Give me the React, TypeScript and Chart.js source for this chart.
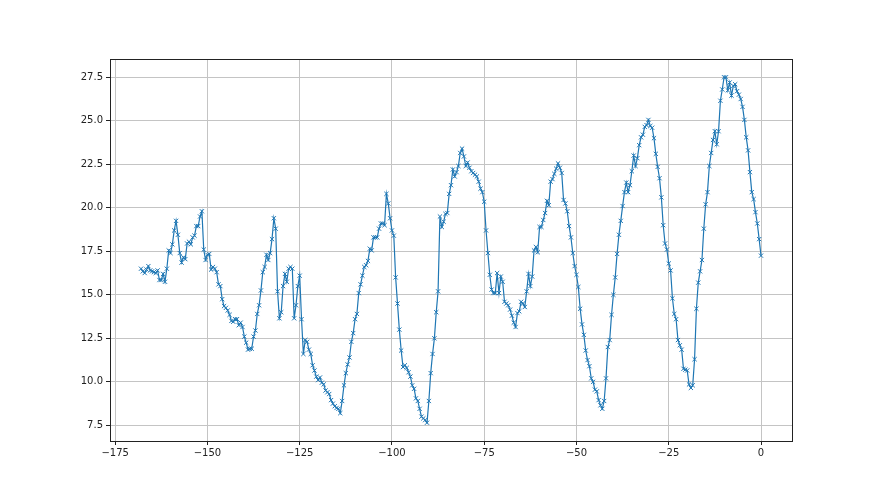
import { useEffect, useRef } from 'react';
import { Chart, registerables } from 'chart.js';

Chart.register(...registerables);

// Half-hourly readings, from 168 h ago (start) up to now (0 h)
const START_HOUR = -168;
const STEP_HOURS = 0.5;

const values: number[] = [
  16.5, 16.35, 16.25, 16.45, 16.65, 16.4, 16.35, 16.3, 16.25, 16.4,
  15.85, 15.85, 16.2, 15.75, 16.5, 17.55, 17.4, 17.9, 18.7, 19.25,
  18.45, 17.4, 16.85, 17.15, 17.05, 17.95, 18.05, 17.9, 18.3, 18.4,
  18.95, 18.95, 19.5, 19.8, 17.6, 17.0, 17.3, 17.35, 16.45, 16.6,
  16.5, 16.3, 15.6, 15.5, 14.75, 14.35, 14.25, 14.1, 13.85, 13.5,
  13.45, 13.6, 13.6, 13.25, 13.4, 13.15, 12.6, 12.25, 11.85, 11.9,
  11.9, 12.6, 12.95, 13.9, 14.4, 15.25, 16.3, 16.6, 17.3, 17.0,
  17.4, 18.2, 19.4, 18.8, 15.2, 13.65, 14.0, 15.5, 16.2, 15.75,
  16.5, 16.6, 16.5, 13.65, 14.4, 15.5, 16.1, 13.6, 11.6, 12.4,
  12.3, 11.85, 11.6, 10.95, 10.65, 10.3, 10.1, 10.25, 9.95, 9.85,
  9.5, 9.4, 9.3, 8.95, 8.75, 8.6, 8.5, 8.45, 8.2, 8.9,
  9.8, 10.5, 11.0, 11.4, 12.3, 12.8, 13.6, 13.9, 15.1, 15.6,
  16.1, 16.6, 16.7, 16.95, 17.65, 17.55, 18.3, 18.3, 18.3, 18.8,
  19.1, 19.1, 19.0, 20.8, 20.25, 19.4, 18.7, 18.4, 16.0, 14.5,
  13.0, 11.8, 10.85, 10.95, 10.8, 10.55, 10.3, 9.8, 9.6, 9.05,
  8.9, 8.45, 8.0, 7.9, 7.8, 7.65, 8.9, 10.5, 11.6, 12.5,
  14.0, 15.2, 19.5, 18.9, 19.2, 19.65, 19.7, 20.8, 21.3, 22.2,
  21.8, 22.05, 22.4, 23.15, 23.4, 22.95, 22.4, 22.6, 22.3, 22.1,
  22.0, 21.9, 21.8, 21.5, 21.1, 20.9, 20.35, 18.7, 17.4, 16.15,
  15.3, 15.1, 15.1, 16.25, 15.1, 16.05, 15.75, 14.6, 14.5, 14.4,
  14.15, 13.8, 13.4, 13.15, 13.95, 14.05, 14.6, 14.5, 14.3, 15.2,
  16.2, 15.5, 16.05, 17.55, 17.75, 17.45, 18.9, 18.9, 19.3, 19.7,
  20.4, 20.15, 21.5, 21.65, 21.95, 22.25, 22.55, 22.3, 22.0, 20.45,
  20.25, 19.8, 18.95, 18.3, 17.4, 16.65, 16.15, 15.45, 14.2, 13.3,
  12.7, 11.8, 11.25, 10.9, 10.2, 10.0, 9.55, 9.45, 8.95, 8.65,
  8.45, 8.9, 10.2, 12.0, 12.4, 13.85, 15.0, 16.0, 17.35, 18.45,
  19.25, 20.1, 20.9, 21.45, 20.9, 21.3, 22.1, 23.0, 22.4, 22.85,
  23.6, 24.05, 24.2, 24.65, 24.75, 25.05, 24.7, 24.6, 24.0, 23.1,
  22.35, 21.7, 20.6, 19.0, 17.95, 17.6, 16.8, 16.4, 14.8, 13.9,
  13.6, 12.4, 12.1, 11.85, 10.75, 10.7, 10.65, 9.85, 9.65, 9.8,
  11.3, 14.2, 15.7, 16.35, 17.0, 18.8, 20.2, 20.9, 22.4, 23.15,
  23.9, 24.4, 23.65, 24.4, 26.15, 26.8, 27.5, 27.5, 26.75, 27.2,
  26.45, 27.0, 27.1, 26.7, 26.5, 26.25, 25.8, 25.05, 24.05, 23.3,
  22.05, 20.9, 20.5, 19.75, 19.1, 18.2, 17.25,
];

const hours: number[] = values.map((_, i) => START_HOUR + i * STEP_HOURS);

const xTicks = [-175, -150, -125, -100, -75, -50, -25, 0];
const yTicks = [7.5, 10, 12.5, 15, 17.5, 20, 22.5, 25, 27.5];

const X_MIN = -176.4;
const X_MAX = 8.4;
const Y_MIN = 6.6;
const Y_MAX = 28.55;

const FONT = { family: "'DejaVu Sans', sans-serif", size: 10 };

const framePlugin = {
  id: 'frame',
  afterDraw(chart: any) {
    const { ctx, chartArea: a } = chart;
    ctx.save();
    ctx.strokeStyle = '#222';
    ctx.lineWidth = 1;
    ctx.strokeRect(
      Math.round(a.left) + 0.5,
      Math.round(a.top) + 0.5,
      Math.round(a.right) - Math.round(a.left),
      Math.round(a.bottom) - Math.round(a.top)
    );
    ctx.restore();
  },
};

export default function App() {
  const ref = useRef<HTMLCanvasElement | null>(null);

  useEffect(() => {
    if (!ref.current) return;
    const chart = new Chart(ref.current, {
      type: 'line',
      data: {
        datasets: [
          {
            data: hours.map((h, i) => ({ x: h, y: values[i] })),
            borderColor: '#1f77b4',
            borderWidth: 1.2,
            pointStyle: 'crossRot',
            pointRadius: 3,
            pointBorderWidth: 1,
            pointBorderColor: '#1f77b4',
            pointBackgroundColor: '#1f77b4',
            tension: 0,
            fill: false,
          },
        ],
      },
      options: {
        animation: false,
        responsive: false,
        devicePixelRatio: 1,
        layout: { padding: { top: 59, right: 88, left: 0, bottom: 0 } },
        plugins: {
          legend: { display: false },
          tooltip: { enabled: false },
        },
        scales: {
          x: {
            type: 'linear',
            min: X_MIN,
            max: X_MAX,
            afterBuildTicks: (scale: any) => {
              scale.ticks = xTicks.map((v) => ({ value: v }));
            },
            afterFit: (scale: any) => {
              scale.height = 54;
            },
            ticks: {
              color: '#222',
              font: FONT,
              padding: 2,
              maxRotation: 0,
              autoSkip: false,
              callback: (v: any) => (Number(v) < 0 ? '\u2212' + Math.abs(Number(v)) : String(v)),
            },
            grid: {
              color: '#c4c4c4',
              lineWidth: 1,
              tickColor: '#222',
              tickLength: 4,
            },
            border: { display: false },
          },
          y: {
            type: 'linear',
            min: Y_MIN,
            max: Y_MAX,
            afterBuildTicks: (scale: any) => {
              scale.ticks = yTicks.map((v) => ({ value: v }));
            },
            afterFit: (scale: any) => {
              scale.width = 110;
            },
            ticks: {
              color: '#222',
              font: FONT,
              padding: 3,
              autoSkip: false,
              callback: (v: any) => Number(v).toFixed(1),
            },
            grid: {
              color: '#c4c4c4',
              lineWidth: 1,
              tickColor: '#222',
              tickLength: 4,
            },
            border: { display: false },
          },
        },
      },
      plugins: [framePlugin],
    } as any);
    return () => chart.destroy();
  }, []);

  return (
    <div style={{ position: 'absolute', left: 0, top: 0, width: 880, height: 495, background: '#fff' }}>
      <canvas ref={ref} width={880} height={495} style={{ width: 880, height: 495, display: 'block' }} />
    </div>
  );
}
